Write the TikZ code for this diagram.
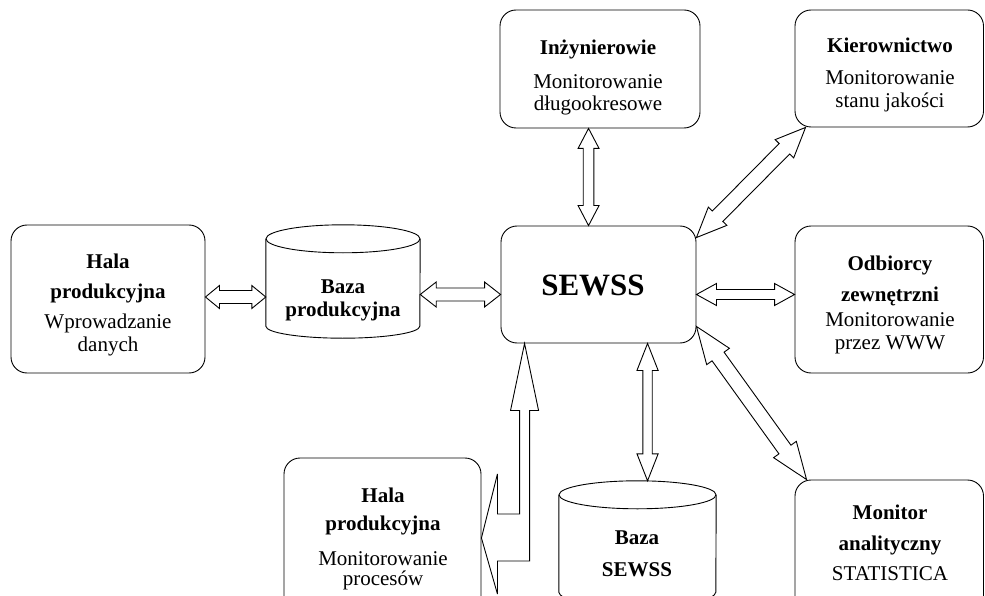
\documentclass[tikz,border=0pt]{standalone}
\usepackage{fontspec}
\setmainfont{Liberation Serif}
\usetikzlibrary{calc}
\tikzset{
 box/.style={draw, line width=0.9pt, rounded corners=16pt, inner sep=0pt},
 ghost/.style={inner sep=0pt},
 cylline/.style={draw, line width=0.9pt},
 hollow/.style={draw, line width=0.9pt, fill=white, line join=miter, miter limit=6},
 txt/.style={align=center, inner sep=0pt, font=\fontsize{21}{23}\selectfont},
 bigtxt/.style={inner sep=0pt, font=\fontsize{31}{34}\selectfont\bfseries},
}
% #1 = end A, #2 = end B, #3 = head length, #4 = head half width, #5 = shaft half width
\newcommand\hollowdbl[5]{%
 \coordinate (aa) at ($(#1)!#3pt!(#2)$);
 \coordinate (bb) at ($(#2)!#3pt!(#1)$);
 \draw[hollow] (#1) -- ($(aa)!#4pt!90:(#2)$) -- ($(aa)!#5pt!90:(#2)$)
   -- ($(bb)!#5pt!-90:(#1)$) -- ($(bb)!#4pt!-90:(#1)$) -- (#2)
   -- ($(bb)!#4pt!90:(#1)$) -- ($(bb)!#5pt!90:(#1)$)
   -- ($(aa)!#5pt!-90:(#2)$) -- ($(aa)!#4pt!-90:(#2)$) -- cycle;
}
\begin{document}
\begin{tikzpicture}[x=1pt,y=-1pt]
\useasboundingbox (0,0) rectangle (985,596);

% boxes
\node[box, minimum width=194pt, minimum height=148pt] (hala1) at (108,299) {};
\node[box, minimum width=195pt, minimum height=117pt] (sewss) at (598.5,284.5) {};
\node[box, minimum width=200pt, minimum height=118pt] (inz) at (600,69) {};
\node[box, minimum width=188.5pt, minimum height=117pt] (kier) at (889.25,68.5) {};
\node[box, minimum width=188.5pt, minimum height=147pt] (odb) at (889.25,299.5) {};
\node[box, minimum width=188.5pt, minimum height=150pt] (mon) at (889.25,555) {};
\node[box, minimum width=197pt, minimum height=160pt] (hala2) at (382.5,538) {};

% cylinders
\node[ghost, minimum width=154pt, minimum height=113pt] (bazap) at (343,281.5) {};
\draw[cylline] ($(bazap.north)+(0,14)$) ellipse [x radius=77pt, y radius=14pt];
\draw[cylline] ($(bazap.north west)+(0,14)$) -- ($(bazap.south west)+(0,-12)$)
  arc [start angle=180, end angle=360, x radius=77pt, y radius=12pt]
  -- ($(bazap.north east)+(0,14)$);

\node[ghost, minimum width=157pt, minimum height=125pt] (bazas) at (637.5,543.5) {};
\draw[cylline] ($(bazas.north)+(0,14)$) ellipse [x radius=78.5pt, y radius=14pt];
\draw[cylline] ($(bazas.north west)+(0,14)$) -- ($(bazas.south west)+(0,-14)$)
  arc [start angle=180, end angle=360, x radius=78.5pt, y radius=14pt]
  -- ($(bazas.north east)+(0,14)$);

% texts
\node[txt] (thala1) at (108,305) {\textbf{Hala}\\[7pt]\textbf{produkcyjna}\\[7pt]Wprowadzanie\\danych};
\node[txt] (tbazap) at (343,300) {\textbf{Baza}\\\textbf{produkcyjna}};
\node[bigtxt] (tsewss) at (593,285.5) {SEWSS};
\node[txt] (tinz) at (598,77) {\textbf{Inżynierowie}\\[11pt]Monitorowanie\\[-1pt]długookresowe};
\node[txt] (tkier) at (890,74.5) {\textbf{Kierownictwo}\\[9pt]Monitorowanie\\stanu jakości};
\node[txt] (todb) at (890,305) {\textbf{Odbiorcy}\\[8pt]\textbf{zewnętrzni}\\[2pt]Monitorowanie\\przez WWW};
\node[txt] (tmon) at (890,542.5) {\textbf{Monitor}\\[8pt]\textbf{analityczny}\\[7pt]STATISTICA};
\node[txt] (thala2) at (383,539) {\textbf{Hala}\\[5pt]\textbf{produkcyjna}\\[12pt]Monitorowanie\\[-3pt]procesów};
\node[txt] (tbazas) at (637,554) {\textbf{Baza}\\[9pt]\textbf{SEWSS}};

% connector end points on the nodes
\coordinate (e1) at ($(hala1.east)+(0,-2)$);
\coordinate (e2) at (bazap.west |- e1);
\coordinate (e3) at ($(sewss.west)+(0,10)$);
\coordinate (e4) at (bazap.east |- e3);
\coordinate (e5) at ($(sewss.east)+(0,10)$);
\coordinate (e6) at (odb.west |- e5);
\coordinate (e7) at ($(inz.south west)+(89,0)$);
\coordinate (e8) at (e7 |- sewss.north);
\coordinate (e9) at ($(sewss.south west)+(147,0)$);
\coordinate (e10) at (e9 |- bazas.north);
\coordinate (e11) at ($(sewss.north east)+(0,12)$);
\coordinate (e12) at ($(kier.south west)+(11,0)$);
\coordinate (e13) at ($(sewss.south east)+(0,-17)$);
\coordinate (e14) at ($(mon.north west)+(12,0)$);

% double hollow arrows
\hollowdbl{e1}{e2}{14}{11.5}{6.5}
\hollowdbl{e4}{e3}{16}{12.5}{6.5}
\hollowdbl{e5}{e6}{20}{11}{5}
\hollowdbl{e7}{e8}{20}{10.5}{5.3}
\hollowdbl{e9}{e10}{27}{10.6}{4.7}
\hollowdbl{e11}{e12}{30}{13}{7.4}
\hollowdbl{e13}{e14}{37}{14}{7.4}

% elbow arrow SEWSS -> Hala produkcyjna (monitorowanie)
\coordinate (T) at ($(sewss.south west)+(24,0)$);
\coordinate (E) at (hala2.east);
\draw[hollow] (T) -- ($(T)+(14,67)$) -- ($(T)+(5,67)$) -- ($(T |- E)+(5,23)$)
  -- ($(E)+(16,23)$) -- ($(E)+(16,56)$) -- (E) -- ($(E)+(16,-64)$)
  -- ($(E)+(16,-24)$) -- ($(T |- E)+(-5,-24)$) -- ($(T)+(-5,67)$)
  -- ($(T)+(-14,67)$) -- cycle;
\end{tikzpicture}
\end{document}
